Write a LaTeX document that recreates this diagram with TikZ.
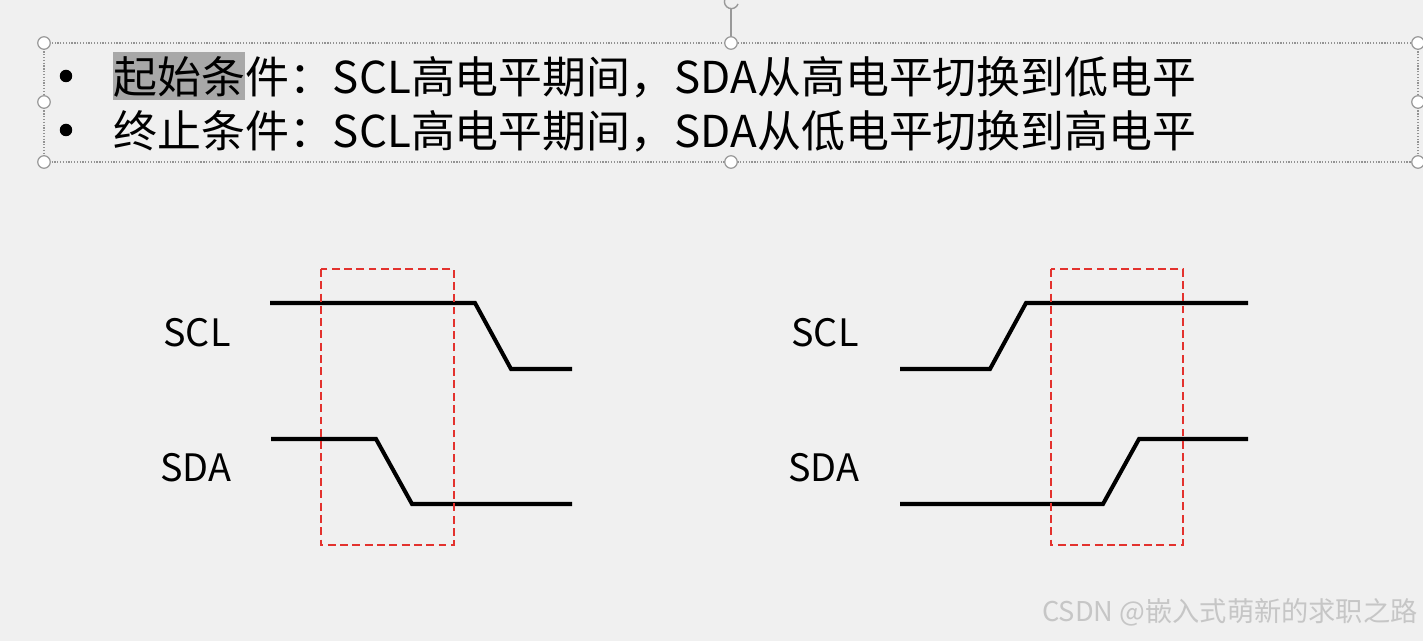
\documentclass[tikz,border=0pt]{standalone}
\usepackage{fontspec}
\setmainfont{Noto Sans CJK SC}
\usetikzlibrary{positioning}
\definecolor{slidebg}{HTML}{F0F0F0}
\definecolor{winred}{HTML}{E3322E}
\definecolor{hilite}{HTML}{A8A8A8}

\begin{document}
\begin{tikzpicture}[x=0.02cm, y=-0.02cm,
  wave/.style={line width=2.3pt, line join=miter},
  window/.style={winred, line width=0.85pt, dash pattern=on 4.5pt off 2.5pt},
  handle/.style={circle, draw=gray!80, fill=white, line width=0.7pt, minimum size=0.25cm, inner sep=0pt},
  dot/.style={circle, fill=black, minimum size=0.25cm, inner sep=0pt},
  sig/.style={font=\fontsize{21.5}{24}\selectfont, inner sep=0pt},
  line/.style={font=\fontsize{25}{30}\selectfont, anchor=west, inner sep=0pt}]
% slide background
\fill[slidebg] (0,0) rectangle (1423,641);
\useasboundingbox (0,0) rectangle (1423,641);

% selected text box
\draw[gray!85, line width=0.6pt, dash pattern=on 0.7pt off 0.9pt] (44,43) rectangle (1418,162);
\draw[gray!80, line width=0.7pt] (731,43) -- (731,9);
\draw[gray!80, line width=0.8pt] (738,4) arc (20:300:7);
\fill[hilite] (113,52) rectangle (245,100);
\node[dot] (b1) at (66,76) {};
\node[dot] (b2) at (66,130) {};
\node[line] (start) at (113,77) {起始条件：SCL高电平期间，SDA从高电平切换到低电平};
\node[line] (stop) at (113,131) {终止条件：SCL高电平期间，SDA从低电平切换到高电平};
\foreach \px/\py in {44/43, 731/43, 1418/43, 44/102, 1418/102, 44/162, 731/162, 1418/162}
  \node[handle] at (\px,\py) {};

% start condition
\node[sig] (sclA) at (197,333) {SCL};
\node[sig] (sdaA) at (196,468) {SDA};
\draw[wave] (270,303) -- (475,303) -- (511,369) -- (572,369);
\draw[wave] (271,439) -- (376,439) -- (412,504) -- (572,504);
\draw[window] (321,269) rectangle (454,545);

% stop condition
\node[sig] (sclB) at (825,333) {SCL};
\node[sig] (sdaB) at (824,468) {SDA};
\draw[wave] (900,369) -- (990,369) -- (1026,303) -- (1248,303);
\draw[wave] (900,504) -- (1103,504) -- (1139,439) -- (1248,439);
\draw[window] (1051,269) rectangle (1183,545);

% watermark
\node[font=\fontsize{15.5}{18}\selectfont, text=gray!45, anchor=east, inner sep=0pt] (mark) at (1418,612) {CSDN @嵌入式萌新的求职之路};
\end{tikzpicture}
\end{document}
